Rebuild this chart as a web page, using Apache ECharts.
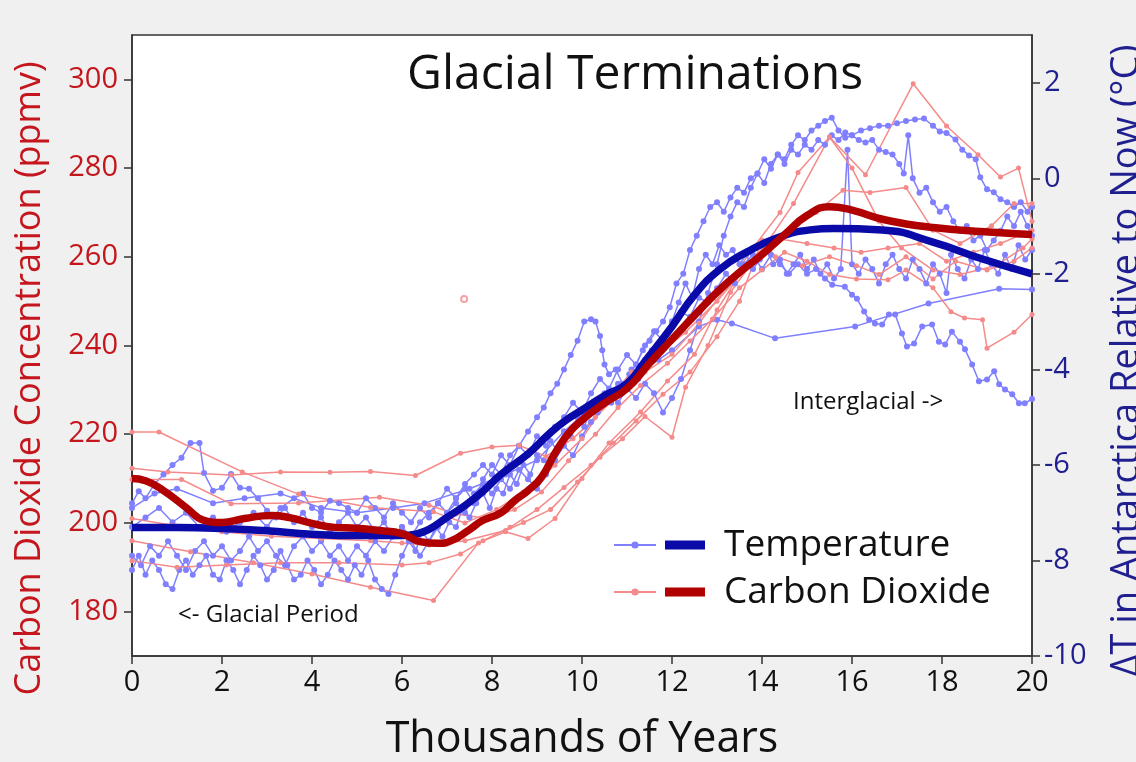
<!DOCTYPE html>
<html>
<head>
<meta charset="utf-8">
<script src="https://cdn.jsdelivr.net/npm/echarts@6/dist/echarts.min.js"></script>
<style>
html,body{margin:0;padding:0;background:#f0f0f0;}
#chart{width:1136px;height:762px;}
</style>
</head>
<body>
<div id="chart"></div>
<script>
// ---- Data (x = thousands of years, temperature in °C, CO2 in ppmv) ----
const xTicks = [0, 2, 4, 6, 8, 10, 12, 14, 16, 18, 20];
const co2Ticks = [180, 200, 220, 240, 260, 280, 300];
const tempTicks = [-10, -8, -6, -4, -2, 0, 2];

const tempA = [[0,-8.2],[0.15,-7.9],[0.3,-8.3],[0.45,-8.0],[0.6,-8.2],[0.75,-8.5],[0.9,-8.6],[1.05,-8.2],[1.2,-8.0],[1.35,-8.3],[1.5,-8.1],[1.65,-7.9],[1.8,-8.3],[1.95,-8.4],[2.1,-8.0],[2.25,-8.2],[2.4,-8.5],[2.55,-8.2],[2.7,-7.9],[2.85,-8.1],[3.0,-8.4],[3.15,-8.2],[3.3,-7.8],[3.45,-8.1],[3.6,-8.4],[3.75,-8.3],[3.9,-8.0],[4.05,-8.2],[4.2,-8.5],[4.35,-8.3],[4.5,-8.0],[4.65,-8.2],[4.8,-8.4],[4.95,-8.1],[5.1,-8.3],[5.25,-8.0],[5.4,-8.4],[5.55,-8.6],[5.7,-8.7],[5.85,-8.3],[6.0,-7.9],[6.15,-7.6],[6.3,-7.8],[6.45,-7.4],[6.6,-7.6],[6.75,-7.3],[6.9,-7.5],[7.05,-7.2],[7.2,-7.3],[7.35,-6.9],[7.5,-7.1],[7.65,-6.8],[7.8,-6.6],[7.95,-6.9],[8.1,-6.5],[8.25,-6.6],[8.4,-6.2],[8.55,-6.4],[8.7,-6.0],[8.85,-6.2],[9.0,-5.8],[9.15,-5.9],[9.3,-5.5],[9.45,-5.7],[9.6,-5.3],[9.75,-5.4],[9.9,-5.0],[10.05,-5.2],[10.2,-4.8],[10.35,-4.9],[10.5,-4.5],[10.65,-4.7],[10.8,-4.3],[10.95,-4.4],[11.1,-4.0],[11.25,-4.2],[11.4,-3.8],[11.55,-3.6],[11.7,-3.8],[11.85,-3.3],[12.0,-3.0],[12.15,-2.6],[12.3,-2.2],[12.45,-2.5],[12.6,-1.9],[12.75,-1.6],[12.9,-1.8],[13.05,-1.4],[13.2,-1.6],[13.35,-1.5],[13.5,-1.8],[13.65,-1.6],[13.8,-1.9],[13.95,-1.7],[14.1,-1.5],[14.25,-1.8],[14.4,-1.7],[14.55,-2.0],[14.7,-1.8],[14.85,-1.6],[15.0,-1.9],[15.15,-1.7],[15.3,-2.0],[15.45,-1.8],[15.6,-2.1],[15.75,-1.9],[15.9,0.6],[16.0,-1.8],[16.15,-2.0],[16.3,-1.7],[16.45,-1.9],[16.6,-2.2],[16.75,-1.8],[16.9,-1.6],[17.05,-1.9],[17.2,-2.1],[17.35,-1.7],[17.5,-1.9],[17.65,-2.2],[17.8,-1.8],[17.95,-2.0],[18.1,-2.4],[18.2,-1.6],[18.35,-1.9],[18.5,-2.1],[18.65,-1.7],[18.8,-1.9],[18.95,-1.5],[19.1,-1.8],[19.25,-2.0],[19.4,-1.6],[19.55,-1.9],[19.7,-1.4],[19.85,-1.7],[20.0,-1.5]];

const tempB = [[0,-7.9],[0.2,-8.1],[0.4,-7.7],[0.6,-7.9],[0.8,-7.6],[1.0,-7.9],[1.2,-8.2],[1.4,-7.8],[1.6,-7.6],[1.8,-7.9],[2.0,-7.7],[2.2,-8.0],[2.4,-7.8],[2.6,-7.5],[2.8,-7.8],[3.0,-7.6],[3.2,-7.9],[3.4,-8.1],[3.6,-7.7],[3.8,-7.5],[4.0,-7.8],[4.2,-7.6],[4.4,-7.9],[4.6,-7.7],[4.8,-8.0],[5.0,-7.7],[5.2,-7.9],[5.4,-7.6],[5.6,-7.8],[5.8,-7.5],[6.0,-7.3],[6.2,-7.5],[6.4,-7.2],[6.6,-7.0],[6.8,-6.8],[7.0,-7.0],[7.2,-6.7],[7.4,-6.5],[7.6,-6.8],[7.8,-6.3],[8.0,-6.0],[8.2,-6.2],[8.4,-5.8],[8.6,-5.6],[8.8,-5.3],[9.0,-5.0],[9.15,-4.8],[9.3,-4.5],[9.45,-4.3],[9.6,-4.0],[9.75,-3.7],[9.9,-3.4],[10.05,-3.0],[10.2,-2.95],[10.3,-3.0],[10.4,-3.3],[10.45,-3.6],[10.5,-3.9],[10.6,-4.1],[10.75,-4.0],[10.9,-4.3],[11.05,-4.1],[11.2,-3.9],[11.35,-3.6],[11.5,-3.4],[11.65,-3.2],[11.8,-3.0],[11.95,-2.7],[12.1,-2.2],[12.25,-2.0],[12.4,-1.5],[12.55,-1.2],[12.7,-0.9],[12.85,-0.6],[13.0,-0.5],[13.15,-0.7],[13.3,-0.4],[13.45,-0.2],[13.6,-0.3],[13.75,0.0],[13.9,0.1],[14.05,-0.1],[14.2,0.3],[14.35,0.5],[14.5,0.4],[14.65,0.7],[14.8,0.9],[14.95,0.8],[15.1,1.0],[15.25,1.1],[15.4,1.2],[15.55,1.27],[15.7,1.0],[15.85,0.85],[16.0,0.9],[16.15,0.8],[16.3,0.75],[16.45,0.8],[16.6,0.6],[16.75,0.55],[16.9,0.5],[17.05,0.3],[17.15,0.1],[17.25,0.9],[17.35,0.0],[17.5,-0.3],[17.65,-0.2],[17.8,-0.5],[17.95,-0.7],[18.1,-0.6],[18.25,-0.9],[18.4,-1.1],[18.55,-1.0],[18.7,-1.3],[18.85,-1.2],[19.0,-1.5],[19.15,-1.3],[19.3,-1.1],[19.45,-0.8],[19.6,-1.0],[19.75,-0.7],[19.9,-1.0],[20.0,-1.2]];

const tempC = [[0,-6.8],[0.15,-6.55],[0.3,-6.7],[0.5,-6.4],[0.7,-6.2],[0.9,-6.0],[1.1,-5.85],[1.3,-5.54],[1.5,-5.54],[1.6,-6.17],[1.8,-6.54],[2.0,-6.48],[2.2,-6.19],[2.4,-6.48],[2.6,-6.5],[2.8,-6.7],[3.0,-6.96],[3.2,-7.1],[3.4,-6.9],[3.6,-7.2],[3.8,-7.0],[4.0,-7.3],[4.2,-7.1],[4.4,-7.4],[4.6,-7.2],[4.8,-7.0],[5.0,-7.3],[5.2,-7.1],[5.4,-7.4],[5.6,-7.2],[5.8,-7.5],[6.0,-7.3],[6.2,-7.6],[6.4,-7.9],[6.6,-7.6],[6.8,-7.3],[7.0,-7.0],[7.2,-6.8],[7.4,-7.0],[7.6,-6.6],[7.8,-6.4],[8.0,-6.6],[8.2,-6.3],[8.4,-6.5],[8.6,-6.1],[8.8,-6.3],[9.0,-6.5],[9.2,-6.2],[9.4,-5.9],[9.6,-5.6],[9.8,-5.8],[10.0,-5.4],[10.2,-5.1],[10.4,-4.8],[10.6,-4.5],[10.8,-4.7],[11.0,-4.4],[11.2,-4.6],[11.4,-4.3],[11.6,-4.5],[11.8,-4.9],[12.0,-4.6],[12.2,-4.2],[12.4,-3.6],[12.6,-3.0],[12.8,-2.4],[13.0,-1.8],[13.15,-1.2],[13.3,-0.8],[13.45,-0.5],[13.6,-0.6],[13.75,-0.2],[13.9,0.1],[14.05,0.4],[14.2,0.2],[14.35,0.5],[14.5,0.3],[14.65,0.6],[14.8,0.5],[14.95,0.7],[15.1,0.6],[15.25,0.8],[15.4,0.7],[15.55,0.9],[15.7,0.8],[15.85,0.96],[16.0,0.9],[16.2,1.0],[16.4,1.05],[16.6,1.1],[16.8,1.1],[17.0,1.15],[17.2,1.2],[17.4,1.23],[17.6,1.25],[17.8,1.1],[17.95,0.98],[18.1,0.95],[18.3,0.81],[18.45,0.6],[18.6,0.48],[18.75,0.4],[18.85,0.02],[19.0,-0.23],[19.15,-0.29],[19.3,-0.44],[19.45,-0.5],[19.6,-0.6],[19.75,-0.5],[19.9,-0.7],[20.0,-0.6]];

const tempD = [[0,-6.9],[0.5,-6.6],[1.0,-6.5],[1.8,-6.8],[2.5,-6.7],[3.3,-6.6],[4.2,-6.9],[5.0,-7.0],[5.8,-6.9],[6.5,-6.8],[7.5,-6.5],[8.3,-6.2],[9.0,-5.9],[9.6,-5.3],[10.2,-4.8],[10.8,-4.4],[11.4,-4.0],[12.0,-3.6],[12.6,-3.1],[13.0,-2.96],[13.33,-3.04],[14.29,-3.35],[16.07,-3.1],[17.7,-2.62],[19.27,-2.31],[20,-2.33]];

const tempE = [[0,-7.3],[0.3,-7.1],[0.6,-6.9],[0.9,-7.2],[1.2,-7.0],[1.5,-7.3],[1.8,-7.1],[2.1,-7.4],[2.4,-7.2],[2.7,-7.0],[3.0,-7.3],[3.3,-6.9],[3.6,-6.7],[3.8,-6.6],[4.0,-6.9],[4.2,-7.0],[4.4,-6.75],[4.6,-6.8],[4.8,-6.9],[5.0,-7.0],[5.2,-6.7],[5.4,-6.9],[5.6,-7.1],[5.8,-6.8],[6.0,-7.0],[6.2,-7.2],[6.4,-6.9],[6.6,-7.1],[6.8,-6.8],[7.0,-6.5],[7.2,-6.7],[7.4,-6.4],[7.6,-6.2],[7.8,-6.0],[8.0,-6.2],[8.2,-5.8],[8.4,-6.0],[8.6,-5.6],[8.8,-5.8],[9.0,-5.4],[9.2,-5.6],[9.4,-5.2],[9.6,-5.0],[9.8,-4.7],[10.0,-4.9],[10.2,-4.5],[10.4,-4.2],[10.6,-4.4],[10.8,-4.0],[11.0,-3.7],[11.2,-3.9],[11.4,-3.5],[11.6,-3.2],[11.8,-3.4],[12.0,-3.0],[12.2,-2.8],[12.4,-2.9],[12.6,-2.5],[12.8,-2.6],[13.0,-2.3],[13.2,-2.0],[13.4,-2.2],[13.6,-1.8],[13.8,-1.6],[14.0,-1.9],[14.2,-1.6],[14.4,-1.8],[14.6,-2.0],[14.8,-1.8],[15.0,-2.0],[15.2,-1.9],[15.4,-2.1],[15.56,-2.23],[15.84,-2.27],[16.0,-2.44],[16.11,-2.52],[16.27,-2.79],[16.38,-2.96],[16.51,-3.04],[16.67,-3.06],[16.82,-2.85],[16.96,-2.85],[17.11,-3.25],[17.22,-3.52],[17.38,-3.46],[17.56,-3.1],[17.78,-3.06],[17.93,-3.42],[18.07,-3.48],[18.22,-3.21],[18.4,-3.42],[18.51,-3.58],[18.67,-3.9],[18.82,-4.25],[19.0,-4.21],[19.16,-4.04],[19.27,-4.31],[19.4,-4.42],[19.56,-4.52],[19.71,-4.71],[19.84,-4.71],[20.0,-4.62]];

const co2A = [[0,220.5],[0.6,220.5],[2.45,211.5],[3.7,206.5],[5.3,203.5],[6.7,202.5],[7.4,200],[8.1,203],[8.7,207],[9.4,213],[10.0,219],[10.6,228],[11.1,234],[11.7,238],[12.3,243],[13.0,250],[13.6,257],[14.1,263],[14.7,272],[15.5,287],[16.3,278.5],[17.36,299],[18.1,289.5],[18.8,283],[19.3,278],[19.7,280],[20,268]];
const co2B = [[0,212.3],[0.8,211.5],[2.2,210.8],[3.3,211.5],[4.4,211.4],[5.3,211.6],[6.3,210.7],[7.3,215.7],[8.0,217.1],[8.6,217.5],[9.2,215],[9.8,219],[10.3,223.8],[10.9,230],[11.4,234],[12.0,238],[12.6,245],[13.2,253],[13.8,262],[14.4,270],[14.8,279],[15.5,287],[16.0,280],[16.6,268],[17.1,262],[17.8,257],[18.4,256],[19.2,258],[19.8,262],[20,264]];
const co2C = [[0,209.8],[1.1,209.8],[2.2,204.3],[3.7,204.5],[5.5,205.8],[6.6,204],[7.2,202],[7.9,201],[8.5,203],[9.1,207],[9.7,214],[10.3,220],[10.8,226],[11.3,231],[11.9,236],[12.4,241],[12.9,246],[13.5,253],[14.0,257],[14.5,261],[15.0,259],[15.5,256],[16.1,255],[16.8,254.8],[17.2,257],[17.8,253],[18.2,247.6],[18.5,246.2],[18.9,245.8],[19.0,239.4],[19.6,243],[20,247]];
const co2D = [[0,201],[0.9,199.5],[2.0,198],[3.1,197],[4.2,196.5],[5.3,196],[6.0,195.5],[6.6,195],[7.4,196],[8.3,198.3],[8.7,200.1],[9.3,203],[9.9,209.2],[10.4,214.8],[10.9,219],[11.4,224],[12.0,219.3],[12.3,230.6],[12.8,240],[13.3,252],[13.8,259],[14.4,264],[15.0,263],[15.6,262],[16.2,261],[16.8,262],[17.5,263],[18.1,259],[18.7,261],[19.3,263],[20,266]];
const co2E = [[0,191.5],[1.0,190],[2.1,190.5],[3.3,191],[4.6,191],[6.0,190.5],[6.6,191],[7.3,193],[7.8,196],[8.4,199],[9.0,203],[9.6,208],[10.2,213],[10.7,218],[11.2,223],[11.8,229],[12.4,234],[13.0,242],[13.5,250],[14.0,263.8],[14.3,260],[14.9,258],[15.5,260],[16.1,258],[16.6,256],[17.2,260],[17.8,255],[18.3,259],[19.0,257],[19.6,259],[20,262]];
const co2F = [[0,196],[1.3,193.5],[2.7,191],[4.0,188.5],[5.3,185.5],[6.7,182.5],[7.7,195.5],[8.3,198],[8.8,196.5],[9.4,201],[10.0,210],[10.6,218],[11.3,225],[11.9,232],[12.5,238],[13.0,248],[13.5,256],[14.0,261],[14.6,266],[15.2,270],[15.8,275],[16.4,274.5],[17.2,275.6],[17.8,266],[18.4,263],[19.1,267],[19.6,272],[20,272]];
const co2Stray = [[7.38, 250.5]];

const tempSmooth = [[0,-7.31],[1,-7.31],[2,-7.33],[3,-7.38],[4,-7.45],[5,-7.48],[6,-7.48],[6.3,-7.45],[6.6,-7.35],[7,-7.1],[7.4,-6.85],[7.8,-6.55],[8.2,-6.2],[8.8,-5.77],[9.27,-5.35],[9.62,-5.08],[10,-4.85],[10.5,-4.55],[11,-4.3],[11.4,-3.83],[12,-3.1],[12.5,-2.44],[13.07,-1.9],[13.67,-1.54],[14.33,-1.25],[15.07,-1.08],[15.6,-1.05],[16.67,-1.08],[17.78,-1.33],[18.9,-1.69],[20,-2.0]];
const co2Smooth = [[0,210],[0.3,209.5],[0.7,207.3],[1.2,203.5],[1.6,200.6],[2,200.1],[2.5,201],[3.1,201.7],[3.5,201.2],[4,199.9],[4.5,199],[5,198.8],[5.5,198.3],[6,197.6],[6.4,195.8],[6.8,195.4],[7.1,196],[7.5,198.5],[7.8,200.6],[8.2,202.3],[8.5,205],[8.8,207.3],[9.1,210.3],[9.4,215.7],[9.7,220.2],[10,223.2],[10.5,227],[11,230.3],[11.5,236],[12,241.4],[12.5,246.8],[13,252],[13.5,256.5],[14,260.5],[14.5,265],[15,269.3],[15.5,271.3],[16,270.5],[16.7,268.4],[17.8,266.6],[19.3,265.4],[20,265]];

// ---- Styles ----
const FONT = '"Open Sans", "Noto Sans", sans-serif';
const THIN_BLUE = '#7f7fff';
const THIN_RED = '#f58a8a';
const THICK_BLUE = '#0a0aa8';
const THICK_RED = '#b00000';

function thinSeries(name, data, axis, color, size) {
  return {
    type: 'line', name: name, data: data, yAxisIndex: axis,
    symbol: 'circle', symbolSize: size, showSymbol: true,
    lineStyle: { width: 1.5, color: color }, itemStyle: { color: color },
    z: 2, silent: true, animation: false, emphasis: { disabled: true }
  };
}

const chart = echarts.init(document.getElementById('chart'), null, { renderer: 'canvas' });
const option = {
  backgroundColor: '#f0f0f0',
  animation: false,
  title: {
    text: 'Glacial Terminations', left: 402, top: 46,
    textStyle: { fontFamily: FONT, fontSize: 48, fontWeight: 'normal', color: '#111' }
  },
  grid: {
    left: 132, right: 104, top: 35, bottom: 106,
    outerBoundsMode: 'none', containLabel: false,
    show: true, backgroundColor: '#ffffff', borderColor: '#333', borderWidth: 1.5
  },
  legend: [
    {
      data: ['Temperature records', 'Carbon Dioxide records'],
      orient: 'vertical', left: 613, top: 525, padding: 0,
      itemWidth: 42, itemHeight: 9, itemGap: 7,
      formatter: function () { return ' '; },
      textStyle: { fontFamily: FONT, fontSize: 37, lineHeight: 40 },
      selectedMode: false
    },
    {
      data: ['Temperature', 'Carbon Dioxide'],
      orient: 'vertical', left: 665, top: 525, padding: 0,
      icon: 'rect', itemWidth: 40, itemHeight: 9, itemGap: 7,
      textStyle: { fontFamily: FONT, fontSize: 37, lineHeight: 40, color: '#111', padding: [0, 0, 0, 14] },
      selectedMode: false
    }
  ],
  xAxis: {
    type: 'value', min: 0, max: 20, interval: 2,
    name: 'Thousands of Years', nameLocation: 'middle', nameGap: 62,
    nameTextStyle: { fontFamily: FONT, fontSize: 43, color: '#111' },
    axisLine: { show: true, onZero: false, lineStyle: { color: '#333', width: 1.5 } },
    axisTick: { show: true, inside: false, length: 8, lineStyle: { color: '#333', width: 1.5 } },
    axisLabel: { fontFamily: FONT, fontSize: 29, color: '#111', margin: 12,
      customValues: xTicks },
    splitLine: { show: false }
  },
  yAxis: [
    {
      type: 'value', min: 170, max: 310, position: 'left',
      name: 'Carbon Dioxide Concentration (ppmv)', nameLocation: 'middle', nameRotate: 90, nameGap: 84,
      nameTextStyle: { fontFamily: FONT, fontSize: 36, color: '#c4161c', padding: [0, 66, 0, 0] },
      axisLine: { show: true, onZero: false, lineStyle: { color: '#333', width: 1.5 } },
      axisTick: { show: true, length: 8, lineStyle: { color: '#333', width: 1.5 }, customValues: co2Ticks },
      axisLabel: { fontFamily: FONT, fontSize: 29, color: '#c4161c', margin: 14, customValues: co2Ticks },
      splitLine: { show: false }
    },
    {
      type: 'value', min: -10, max: 3, position: 'right',
      name: 'ΔT in Antarctica Relative to Now (°C)', nameLocation: 'middle', nameRotate: 90, nameGap: 76,
      nameTextStyle: { fontFamily: FONT, fontSize: 38, color: '#1f1f8f', padding: [0, 30, 0, 0] },
      axisLine: { show: true, onZero: false, lineStyle: { color: '#333', width: 1.5 } },
      axisTick: { show: true, length: 8, lineStyle: { color: '#333', width: 1.5 }, customValues: tempTicks },
      axisLabel: { fontFamily: FONT, fontSize: 29, color: '#1f1f8f', margin: 12, customValues: tempTicks },
      splitLine: { show: false }
    }
  ],
  graphic: [
    { type: 'text', left: 178, top: 603, z: 100,
      style: { text: '<- Glacial Period', font: '24px ' + FONT, fill: '#111' } },
    { type: 'text', left: 793, top: 390, z: 100,
      style: { text: 'Interglacial ->', font: '24px ' + FONT, fill: '#111' } }
  ],
  series: [
    thinSeries('Temperature records', tempA, 1, THIN_BLUE, 6),
    thinSeries('Temperature records', tempB, 1, THIN_BLUE, 6),
    thinSeries('Temperature records', tempC, 1, THIN_BLUE, 6),
    thinSeries('Temperature records', tempD, 1, THIN_BLUE, 6),
    thinSeries('Temperature records', tempE, 1, THIN_BLUE, 6),
    thinSeries('Carbon Dioxide records', co2A, 0, THIN_RED, 5),
    thinSeries('Carbon Dioxide records', co2B, 0, THIN_RED, 5),
    thinSeries('Carbon Dioxide records', co2C, 0, THIN_RED, 5),
    thinSeries('Carbon Dioxide records', co2D, 0, THIN_RED, 5),
    thinSeries('Carbon Dioxide records', co2E, 0, THIN_RED, 5),
    thinSeries('Carbon Dioxide records', co2F, 0, THIN_RED, 5),
    {
      type: 'scatter', name: 'stray', data: co2Stray, yAxisIndex: 0,
      symbol: 'emptyCircle', symbolSize: 6, itemStyle: { color: THIN_RED, borderWidth: 1.2, borderColor: THIN_RED },
      silent: true, z: 2
    },
    {
      type: 'line', name: 'Temperature', data: tempSmooth, yAxisIndex: 1, smooth: 0.5,
      symbol: 'none', lineStyle: { width: 7.5, color: THICK_BLUE }, itemStyle: { color: THICK_BLUE },
      z: 5, silent: true
    },
    {
      type: 'line', name: 'Carbon Dioxide', data: co2Smooth, yAxisIndex: 0, smooth: 0.5,
      symbol: 'none', lineStyle: { width: 7.5, color: THICK_RED }, itemStyle: { color: THICK_RED },
      z: 6, silent: true
    }
  ]
};
chart.setOption(option);
</script>
</body>
</html>
